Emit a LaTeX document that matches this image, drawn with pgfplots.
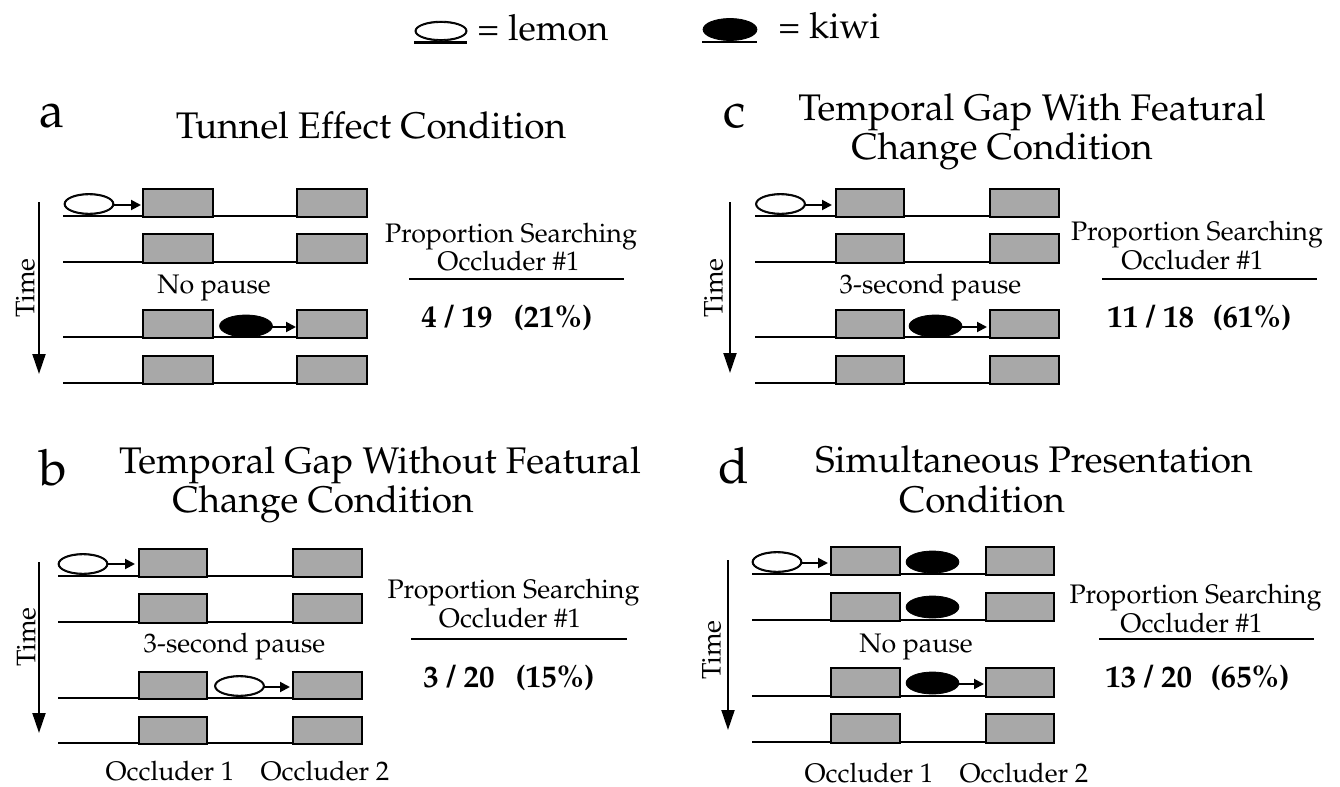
\documentclass[border=0pt]{standalone}
\usepackage[T1]{fontenc}
\usepackage{mathpazo}
\usepackage{pgfplots}
\pgfplotsset{compat=1.18}
\usetikzlibrary{arrows.meta}
\definecolor{occ}{RGB}{168,168,168}

% occluder rectangle: x1, y1(top), x2, y2(bottom)
\newcommand\Occ[4]{\addplot[draw=black, line width=1.2pt, fill=occ] coordinates {(#1,#2) (#3,#2) (#3,#4) (#1,#4)} -- cycle;}
% track line: x1, x2, y
\newcommand\Track[3]{\addplot[black, line width=1pt] coordinates {(#1,#3) (#2,#3)};}
% small arrow: x1, x2, y
\newcommand\Arr[3]{\addplot[black, line width=1pt, -{Triangle[length=5pt,width=5pt]}] coordinates {(#1,#3) (#2,#3)};}
% time arrow: x, y1, y2
\newcommand\TimeArr[3]{\addplot[black, line width=1pt, -{Triangle[length=10pt,width=6.5pt]}] coordinates {(#1,#2) (#1,#3)};}
\newcommand\Lemon[2]{%
  \addplot[only marks, mark=*, mark size=5.25pt, mark options={draw=none, fill=black, xscale=2.381}] coordinates {(#1,#2)};
  \addplot[only marks, mark=*, mark size=4.6pt, mark options={draw=none, fill=white, xscale=2.58}] coordinates {(#1,#2)};}
\newcommand\Kiwi[2]{%
  \addplot[only marks, mark=*, mark size=5.5pt, mark options={draw=none, fill=black, xscale=2.4}] coordinates {(#1,#2)};}

\tikzset{
  ttl/.style={anchor=base, inner sep=0, font=\fontsize{18.5}{21}\selectfont},
  lgd/.style={anchor=base west, inner sep=0, font=\fontsize{18}{21}\selectfont},
  body/.style={anchor=base, inner sep=0, font=\fontsize{13.4}{16}\selectfont},
  num/.style={inner sep=0, font=\fontsize{15.5}{18}\selectfont\bfseries},
  letter/.style={anchor=base, inner sep=0, font=\fontsize{25}{28}\selectfont},
  timelbl/.style={inner sep=0, rotate=90, font=\fontsize{13.4}{16}\selectfont}
}

\begin{document}
\begin{tikzpicture}
\useasboundingbox (0,0) rectangle (670pt,393.5pt);
\begin{axis}[at={(0,0)}, anchor=south west, width=670pt, height=393.5pt, scale only axis,
  xmin=0, xmax=1340, ymin=0, ymax=787, y dir=reverse, hide axis, clip=false]

% ---------- legend ----------
\addplot[only marks, mark=*, mark size=4.9pt, mark options={draw=none, fill=black, xscale=2.66}] coordinates {(441,31)};
\addplot[only marks, mark=*, mark size=4.25pt, mark options={draw=none, fill=white, xscale=2.92}] coordinates {(441,31)};
\addplot[black, line width=1.1pt] coordinates {(414,42.5) (467,42.5)};
\addplot[only marks, mark=*, mark size=5.5pt, mark options={draw=none, fill=black, xscale=2.45}] coordinates {(730,29.5)};
\addplot[black, line width=1.1pt] coordinates {(702,42) (757,42)};
\node[lgd] at (axis cs:477,40) {= lemon};
\node[lgd] at (axis cs:778,39) {= kiwi};

% ---------- panel a ----------
\node[letter] at (axis cs:52,127) {a};
\node[ttl] at (axis cs:371,138) {Tunnel Effect Condition};
\Track{63}{367}{216}\Track{63}{367}{262}\Track{63}{367}{337}\Track{63}{367}{383}
\Occ{143}{189}{213}{217}\Occ{297}{189}{367}{217}
\Occ{143}{234}{213}{263}\Occ{297}{234}{367}{263}
\Occ{143}{310}{213}{338}\Occ{297}{310}{367}{338}
\Occ{143}{356}{213}{384}\Occ{297}{356}{367}{384}
\Lemon{89}{204}\Arr{114}{141}{205}
\Kiwi{246}{326}\Arr{272}{296}{327}
\TimeArr{39}{202}{374}
\node[timelbl] at (axis cs:25.5,288) {Time};
\node[body] at (axis cs:214,293) {No pause};
\node[body] at (axis cs:511,242) {Proportion Searching};
\node[body] at (axis cs:508.5,270) {Occluder \#1};
\addplot[black, line width=1pt] coordinates {(409,279) (624,279)};
\node[num, anchor=base west] at (axis cs:421,327) {4 / 19};
\node[num, anchor=base east] at (axis cs:593,327) {(21\%)};

% ---------- panel b ----------
\node[letter] at (axis cs:53,485) {b};
\node[ttl] at (axis cs:380,473) {Temporal Gap Without Featural};
\node[ttl] at (axis cs:323,512) {Change Condition};
\Track{58}{362}{576}\Track{58}{362}{622}\Track{58}{362}{698}\Track{58}{362}{743}
\Occ{139}{549}{207}{577}\Occ{293}{549}{362}{577}
\Occ{139}{594}{207}{623}\Occ{293}{594}{362}{623}
\Occ{139}{672}{207}{699}\Occ{293}{672}{362}{699}
\Occ{139}{717}{207}{744}\Occ{293}{717}{362}{744}
\Lemon{83}{564}\Arr{107}{135}{564}
\Lemon{239.5}{686}\Arr{264}{290}{687}
\TimeArr{39}{562}{733}
\node[timelbl] at (axis cs:26.5,637) {Time};
\node[body] at (axis cs:234.5,652) {3-second pause};
\node[body] at (axis cs:170,780) {Occluder 1};
\node[body] at (axis cs:325,780) {Occluder 2};
\node[body] at (axis cs:513.5,598) {Proportion Searching};
\node[body] at (axis cs:510,627) {Occluder \#1};
\addplot[black, line width=1pt] coordinates {(411,639) (627,639)};
\node[num, anchor=base west] at (axis cs:423,687) {3 / 20};
\node[num, anchor=base east] at (axis cs:595,687) {(15\%)};

% ---------- panel c ----------
\node[letter] at (axis cs:734.5,127) {c};
\node[ttl] at (axis cs:1032,120) {Temporal Gap With Featural};
\node[ttl] at (axis cs:1002,159) {Change Condition};
\Track{755}{1059}{216}\Track{755}{1059}{262}\Track{755}{1059}{337}\Track{755}{1059}{383}
\Occ{836}{189}{904}{217}\Occ{990}{189}{1059}{217}
\Occ{836}{234}{904}{263}\Occ{990}{234}{1059}{263}
\Occ{836}{310}{904}{338}\Occ{990}{310}{1059}{338}
\Occ{836}{356}{904}{384}\Occ{990}{356}{1059}{384}
\Lemon{780.5}{204}\Arr{805}{832}{205}
\Kiwi{935.5}{326}\Arr{962}{987}{327}
\TimeArr{730}{202}{373}
\node[timelbl] at (axis cs:713.5,288) {Time};
\node[body] at (axis cs:930.5,293) {3-second pause};
\node[body] at (axis cs:1197,240) {Proportion Searching};
\node[body] at (axis cs:1192.5,269) {Occluder \#1};
\addplot[black, line width=1pt] coordinates {(1102,279) (1317,279)};
\node[num, anchor=base west] at (axis cs:1107,327) {11 / 18};
\node[num, anchor=base east] at (axis cs:1292,327) {(61\%)};

% ---------- panel d ----------
\node[letter] at (axis cs:733.5,483) {d};
\node[ttl] at (axis cs:1034,472) {Simultaneous Presentation};
\node[ttl] at (axis cs:982,512) {Condition};
\Track{752}{1054}{574}\Track{752}{1054}{620}\Track{752}{1054}{696}\Track{752}{1054}{742}
\Occ{831}{547}{900}{575}\Occ{986}{547}{1054}{575}
\Occ{831}{593}{900}{621}\Occ{986}{593}{1054}{621}
\Occ{831}{668}{900}{697}\Occ{986}{668}{1054}{697}
\Occ{831}{714}{900}{743}\Occ{986}{714}{1054}{743}
\Lemon{777}{562}\Arr{802}{828}{563}
\Kiwi{932.5}{562}\Kiwi{932.5}{607}\Kiwi{932.5}{683}\Arr{958}{984}{684}
\TimeArr{728}{560}{730}
\node[timelbl] at (axis cs:711.5,650) {Time};
\node[body] at (axis cs:916,652) {No pause};
\node[body] at (axis cs:869,782) {Occluder 1};
\node[body] at (axis cs:1024,782) {Occluder 2};
\node[body] at (axis cs:1195.5,603) {Proportion Searching};
\node[body] at (axis cs:1191.5,632) {Occluder \#1};
\addplot[black, line width=1pt] coordinates {(1099,639) (1314,639)};
\node[num, anchor=base west] at (axis cs:1105,687) {13 / 20};
\node[num, anchor=base east] at (axis cs:1290,687) {(65\%)};

\end{axis}
\end{tikzpicture}
\end{document}
